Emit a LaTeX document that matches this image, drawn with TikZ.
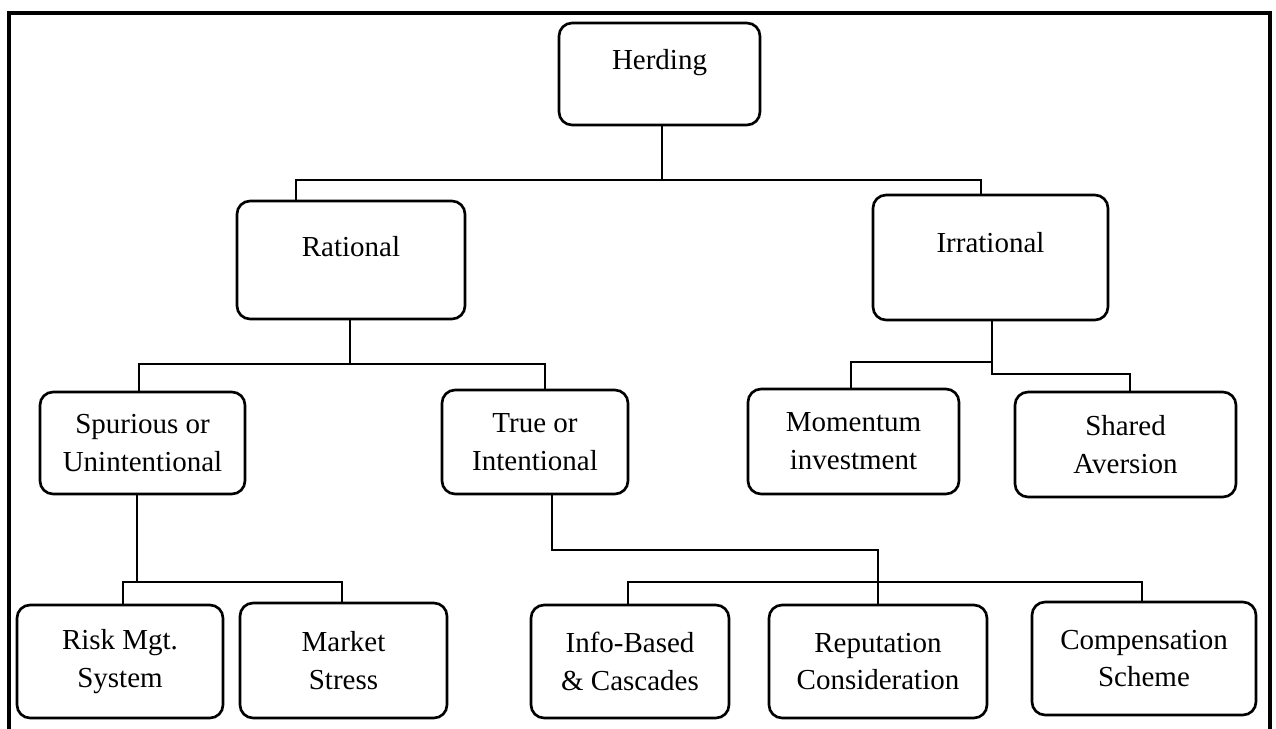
\documentclass[tikz,border=0pt]{standalone}
\usepackage{fontspec}
\setmainfont{Liberation Serif}
\usetikzlibrary{positioning}

\begin{document}
\begin{tikzpicture}[
    x=0.02cm, y=-0.02cm,
    box/.style={rectangle, rounded corners=0.26cm, draw, line width=1.5pt, inner sep=0pt,
      align=center, font=\fontsize{16.5}{21.5}\selectfont},
    uptext/.style={text height=0.45cm, text depth=#1},
    link/.style={line width=1.2pt}
  ]
    \useasboundingbox (0,0) rectangle (1276,729);
    % outer frame, open at the bottom
    \draw[line width=2.8pt] (9,729) -- (9,13) -- (1270,13) -- (1270,729);

    \node[box, uptext=0.61cm, minimum width=4.02cm, minimum height=2.04cm] (herding) at (659.5,74) {Herding};
    \node[box, uptext=0.57cm, minimum width=4.56cm, minimum height=2.36cm] (rational) at (351,260) {Rational};
    \node[box, uptext=0.65cm, minimum width=4.70cm, minimum height=2.50cm] (irrational) at (990.5,257.5) {Irrational};

    \node[box, minimum width=4.10cm, minimum height=2.04cm] (spurious) at (142.5,443) {Spurious or\\Unintentional};
    \node[box, minimum width=3.72cm, minimum height=2.08cm] (true) at (535,442) {True or\\Intentional};
    \node[box, minimum width=4.22cm, minimum height=2.10cm] (momentum) at (853.5,441.5) {Momentum\\investment};
    \node[box, minimum width=4.42cm, minimum height=2.10cm] (shared) at (1125.5,444.5) {Shared\\Aversion};

    \node[box, minimum width=4.12cm, minimum height=2.26cm] (risk) at (120,661.5) {Risk Mgt.\\System};
    \node[box, minimum width=4.14cm, minimum height=2.30cm] (market) at (343.5,660.5) {Market\\Stress};
    \node[box, minimum width=3.96cm, minimum height=2.26cm] (info) at (630,661.5) {Info-Based\\\& Cascades};
    \node[box, minimum width=4.36cm, minimum height=2.26cm] (reputation) at (878,661.5) {Reputation\\Consideration};
    \node[box, minimum width=4.48cm, minimum height=2.26cm] (compensation) at (1144,658.5) {Compensation\\Scheme};

    % junctions
    \coordinate (top bar) at (662,180);
    \coordinate (rat bar) at (350,364);
    \coordinate (irr bar) at (992,362);
    \coordinate (irr low) at (992,374);
    \coordinate (spu bar) at (137,582);
    \coordinate (tru bend) at (552,550);
    \coordinate (tru bar) at (878,582);

    \draw[link] (herding.south -| top bar) -- (top bar);
    \draw[link] (rational.north -| 296,0) |- (top bar) -| (irrational.north -| 981,0);

    \draw[link] (rational.south -| rat bar) -- (rat bar);
    \draw[link] (spurious.north -| 139,0) |- (rat bar) -| (true.north -| 545,0);

    \draw[link] (irrational.south -| irr bar) -- (irr low) -| (shared.north -| 1130,0);
    \draw[link] (momentum.north -| 851,0) |- (irr bar);

    \draw[link] (spurious.south -| spu bar) -- (spu bar);
    \draw[link] (risk.north -| 123,0) |- (spu bar) -| (market.north -| 342,0);

    \draw[link] (true.south -| tru bend) -- (tru bend) -| (reputation.north);
    \draw[link] (info.north -| 628,0) |- (tru bar) -| (compensation.north -| 1142,0);
  \end{tikzpicture}
\end{document}
